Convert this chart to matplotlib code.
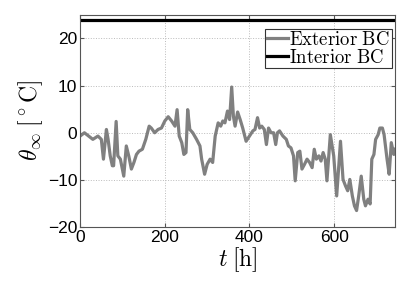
import matplotlib.pyplot as plt

plt.rcParams['mathtext.fontset'] = 'cm'
plt.rcParams['font.family'] = ['Liberation Sans', 'DejaVu Sans']

# exterior boundary condition (t in hours, theta in degC)
t_ext = [0, 10, 20, 30, 42, 50, 55, 62, 66, 71, 76, 79, 85, 89, 95, 103, 109,
         115, 121, 127, 133, 139, 147, 155, 163, 168, 176, 184, 192, 200, 208,
         216, 224, 229, 234, 240, 245, 250, 254, 259, 266, 275, 283, 287, 294,
         300, 307, 313, 319, 326, 332, 337, 342, 348, 353, 358, 362, 366, 372,
         378, 384, 392, 400, 408, 413, 419, 424, 429, 435, 440, 445, 451, 457,
         462, 466, 471, 479, 487, 492, 498, 504, 508, 514, 519, 524, 530, 536,
         542, 548, 553, 558, 564, 569, 574, 579, 583, 591, 599, 606, 611, 615,
         621, 627, 632, 637, 643, 648, 653, 658, 664, 670, 674, 680, 685, 689,
         694, 698, 704, 708, 714, 718, 725, 730, 735, 741, 744]
theta_ext = [-0.7, 0.0, -0.7, -1.4, -0.7, -1.4, -5.6, 0.7, -1.4, -4.9, -7.0,
             -7.0, 2.4, -4.9, -5.6, -9.2, -2.8, -5.0, -7.7, -6.3, -4.6, -3.9,
             -3.5, -1.4, 1.4, 1.0, 0.0, 0.7, 1.0, 2.5, 3.4, 2.5, 1.4, 4.9,
             -0.7, -2.1, -4.6, -4.2, 4.9, 0.7, 0.0, -1.4, -2.8, -5.6, -8.8,
             -6.7, -5.6, -6.3, -0.7, 2.1, 1.4, 2.5, 2.1, 4.6, 2.8, 9.7, 3.5,
             1.4, 4.4, 2.8, 1.0, -1.8, -0.7, 0.4, 0.7, 3.2, 1.0, 1.4, 0.7,
             -2.5, 1.0, 0.0, 0.0, -2.5, 0.0, 0.4, -0.7, -1.4, -2.8, -3.2, -4.9,
             -10.2, -4.2, -3.9, -7.7, -6.7, -5.6, -6.3, -7.4, -3.5, -5.6, -4.9,
             -6.0, -4.2, -5.6, -10.2, -0.4, -4.9, -13.4, -7.0, -1.8, -9.9,
             -11.3, -12.3, -9.9, -13.4, -15.5, -16.5, -13.4, -9.2, -14.1,
             -15.5, -14.1, -15.1, -5.6, -4.6, -1.4, -0.4, 1.0, 1.0, -0.4, -5.6,
             -8.8, -2.1, -4.6, -3.5]

# interior boundary condition (constant)
t_int = [0, 744]
theta_int = [24, 24]

fig = plt.figure(figsize=(4.09, 2.81), dpi=100)
ax = fig.add_axes([0.196, 0.192, 0.770, 0.755])

ax.plot(t_ext, theta_ext, color='#808080', lw=2.3, label=r'$\mathrm{Exterior\ BC}$')
ax.plot(t_int, theta_int, color='black', lw=2.3, label=r'$\mathrm{Interior\ BC}$')

ax.set_xlim(0, 744)
ax.set_ylim(-20, 25)
ax.set_xticks([0, 200, 400, 600])
ax.set_yticks([-20, -10, 0, 10, 20])
ax.tick_params(direction='in', top=True, right=True, labelsize=12.5,
               length=3, color='#555555', pad=2)
for s in ax.spines.values():
    s.set_color('#555555')
    s.set_linewidth(0.8)
ax.grid(True, linestyle=':', color='#bbbbbb', linewidth=0.7)

ax.set_xlabel(r'$t\;[\mathrm{h}]$', fontsize=17, labelpad=0)
ax.set_ylabel(r'$\theta_\infty\;[{}^\circ\mathrm{C}]$', fontsize=17, labelpad=2)

leg = ax.legend(loc='upper right', fontsize=13.5, handlelength=1.1,
                handletextpad=0.1, borderpad=0.1, labelspacing=0.0,
                bbox_to_anchor=(0.99, 0.935), borderaxespad=0,
                fancybox=False, framealpha=1)
leg.get_frame().set_edgecolor('#333333')
leg.get_frame().set_linewidth(0.8)

fig.savefig('out.png', dpi=100)
